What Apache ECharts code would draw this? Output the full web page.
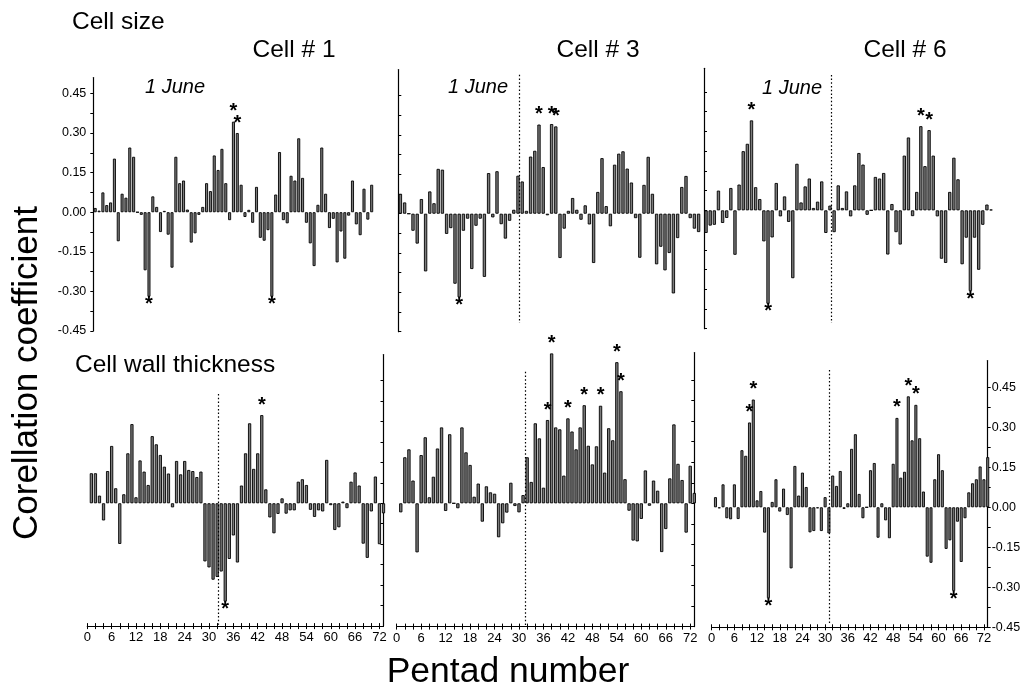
<!DOCTYPE html>
<html>
<head>
<meta charset="utf-8">
<script src="https://cdn.jsdelivr.net/npm/echarts@6/dist/echarts.min.js"></script>
<style>
  html, body { margin: 0; padding: 0; background: #fff; }
  #chart { width: 1026px; height: 690px; }
</style>
</head>
<body>
<div id="chart"></div>
<script>
// Pentad-wise correlation coefficients (pentad 1, 2, 3, ...)
// Cell size
const sizeCell1 = [0.016, 0.006, 0.075, 0.027, 0.037, 0.203, -0.11, 0.07, 0.055, 0.245,
  0.21, 0, -0.01, -0.22, -0.32, 0.06, 0.02, -0.075, 0.005, -0.085,
  -0.21, 0.21, 0.11, 0.12, 0.01, -0.115, -0.08, -0.01, 0.02, 0.11,
  0.08, 0.215, 0.16, 0.24, 0.11, -0.03, 0.343, 0.30, 0.104, -0.018,
  0.009, -0.04, 0.096, -0.097, -0.108, -0.068, -0.32, 0.067, 0.228, -0.03,
  -0.042, 0.138, 0.12, 0.28, 0.13, -0.04, -0.118, -0.204, 0.028, 0.245,
  0.07, -0.06, -0.025, -0.19, -0.073, -0.176, -0.013, 0.12, -0.046, -0.087,
  0.089, -0.028, 0.104];
const sizeCell3 = [0.076, 0.043, 0, -0.065, -0.114, 0.056, -0.22, 0.085, 0.04, 0.171,
  0.168, -0.077, -0.055, -0.267, -0.319, -0.065, -0.019, -0.211, -0.046, -0.019,
  -0.241, 0.155, -0.014, 0.162, -0.04, -0.095, -0.027, 0.015, 0.145, 0.123,
  0.011, 0.218, 0.24, 0.34, 0.178, -0.006, 0.342, 0.333, -0.169, -0.057,
  0.011, 0.06, 0.015, -0.023, 0.032, -0.041, -0.188, 0.083, 0.212, 0.029,
  -0.048, 0.187, 0.229, 0.238, 0.172, 0.119, -0.017, -0.168, 0.11, 0.217,
  0.076, -0.193, -0.126, -0.216, -0.15, -0.304, -0.093, 0.102, 0.144, -0.017,
  -0.057, -0.07];
const sizeCell6 = [-0.086, -0.058, -0.055, 0.075, -0.048, -0.029, 0.085, -0.169, 0.098, 0.225,
  0.253, 0.342, 0.088, 0.043, -0.118, -0.355, -0.103, 0.104, -0.023, 0.053,
  -0.044, -0.258, 0.177, 0.03, 0.091, 0.121, 0.009, 0.033, 0.11, -0.086,
  0.018, -0.083, 0.095, 0.009, 0.072, -0.023, 0.095, 0.218, 0.174, -0.017,
  0, 0.127, 0.121, 0.142, -0.168, 0.024, -0.083, -0.13, 0.208, 0.277,
  -0.022, 0.07, 0.32, 0.168, 0.305, 0.208, -0.023, -0.184, -0.2, 0.07,
  0.2, 0.118, -0.205, -0.104, -0.307, -0.104, -0.226, -0.055, 0.022, 0.003];

// Cell wall thickness
const wallCell1 = [0.11, 0.11, 0.028, -0.063, 0.118, 0.21, 0.055, -0.149, 0.033, 0.183,
  0.29, 0.022, 0.157, 0.116, 0.067, 0.246, 0.216, 0.177, 0.134, 0.109,
  -0.015, 0.155, 0.106, 0.155, 0.122, 0.118, 0.096, 0.116, -0.213, -0.235,
  -0.28, -0.27, -0.25, -0.36, -0.204, -0.118, -0.217, 0.065, 0.183, 0.293,
  0.126, 0.183, 0.323, 0.051, -0.052, -0.11, -0.039, 0.018, -0.038, -0.026,
  -0.026, 0.079, 0.088, 0.067, -0.024, -0.05, -0.026, -0.03, 0.159, -0.007,
  -0.098, -0.088, 0.006, -0.018, 0.079, 0.113, 0.065, -0.148, -0.2, -0.03,
  0.098, -0.15, -0.037];
const wallCell3 = [-0.033, 0.168, 0.197, 0.083, -0.179, 0.176, 0.241, 0.022, 0.097, 0.2,
  0.277, -0.028, 0.252, 0, -0.018, 0.277, 0.186, 0.14, 0.024, 0.072,
  -0.067, 0.062, 0.04, 0.035, -0.124, -0.073, -0.034, 0.075, -0.01, -0.033,
  0.03, 0.168, 0.078, 0.292, 0.237, 0.057, 0.304, 0.547, 0.277, 0.27,
  0.101, 0.31, 0.262, 0.197, 0.277, 0.358, 0.21, 0.142, 0.208, 0.356,
  0.112, 0.274, 0.23, 0.515, 0.409, 0.088, -0.027, -0.136, -0.139, -0.057,
  0.12, -0.009, 0.083, 0.046, -0.178, -0.094, 0.091, 0.288, 0.144, 0.085,
  -0.107, 0.137, 0.038];
const wallCell6 = [0.038, -0.004, 0.086, -0.041, -0.045, 0.086, -0.044, 0.214, 0.193, 0.318,
  0.404, 0.026, 0.061, -0.095, -0.341, 0.02, 0.105, -0.016, 0.07, -0.029,
  -0.229, 0.155, 0.044, 0.13, 0.076, -0.094, -0.089, -0.004, -0.089, 0.038,
  -0.098, 0.119, 0.08, 0.136, -0.006, 0.015, 0.219, 0.274, 0.05, -0.041,
  0, 0.139, 0.166, -0.114, 0.015, -0.049, -0.116, 0.163, 0.335, 0.111,
  0.133, 0.416, 0.251, 0.384, 0.259, 0.059, -0.185, -0.208, 0.105, 0.199,
  0.139, -0.156, -0.124, -0.314, -0.054, -0.205, -0.041, 0.056, 0.09, 0.105,
  0.153, 0.105, 0.188];

// Pentads whose coefficient is significant (marked with *)
const sizeStars1 = [15, 37, 38, 47];
const sizeStars3 = [15, 34, 37, 38];
const sizeStars6 = [12, 16, 53, 55, 65];
const wallStars1 = [34, 43];
const wallStars3 = [37, 38, 42, 46, 50, 54, 55];
const wallStars6 = [10, 11, 15, 49, 52, 54, 64];

// Pentad where 1 June falls in each panel
const juneMark = [31.7, 29.2, 31.25, 32.3, 31.5, 31.1];

// Axis ticks
const pentadLabels = [0, 6, 12, 18, 24, 30, 36, 42, 48, 54, 60, 66, 72];
const pentadMinor = Array.from({ length: 37 }, (_, i) => i * 2);
const coefLabels = [-0.45, -0.30, -0.15, 0.00, 0.15, 0.30, 0.45];
const coefMinor = Array.from({ length: 13 }, (_, i) => Math.round((-0.45 + i * 0.075) * 1000) / 1000);

const columnTitles = ['Cell # 1', 'Cell # 3', 'Cell # 6'];
const rowTitles = ['Cell size', 'Cell wall thickness'];

const FONT = "'Liberation Sans', Arial, Helvetica, sans-serif";
const BAR_FILL = '#7b7b7b';

const panels = [
  { values: sizeCell1, stars: sizeStars1, grid: { left: 93.3, top: 77.6, width: 280.3, height: 253.4 }, yMax: 0.51, x: [0.5, 73.5], bw: 3.0, line: [0.52, -0.435], row: 0 },
  { values: sizeCell3, stars: sizeStars3, grid: { left: 398.3, top: 69.5, width: 306.6, height: 262.2 }, yMax: 0.55, x: [0.5, 73.5], bw: 3.3, line: [0.53, -0.417], row: 0 },
  { values: sizeCell6, stars: sizeStars6, grid: { left: 704, top: 68.3, width: 301.5, height: 260.4 }, yMax: 0.54, x: [0.5, 73.5], bw: 3.3, line: [0.515, -0.428], row: 0 },
  { values: wallCell1, stars: wallStars1, grid: { left: 87.3, top: 354.5, width: 296.2, height: 271.6 }, yMax: 0.545, x: [0, 73], bw: 3.2, line: [0.40, -0.445], row: 1 },
  { values: wallCell3, stars: wallStars3, grid: { left: 396.7, top: 352.6, width: 297.6, height: 274 }, yMax: 0.55, x: [0, 73], bw: 3.3, line: [0.48, -0.445], row: 1 },
  { values: wallCell6, stars: wallStars6, grid: { left: 711.7, top: 360.6, width: 276, height: 266.7 }, yMax: 0.55, x: [0, 73], bw: 3.0, line: [0.515, -0.44], row: 1 }
];

const grids = [], xAxes = [], yAxes = [], series = [];

panels.forEach((p, i) => {
  grids.push(Object.assign({ containLabel: false }, p.grid));

  // x axis used by the bars (and the labelled pentad axis on the lower row)
  const bottomRow = p.row === 1;
  xAxes.push({
    type: 'value', gridIndex: i, min: p.x[0], max: p.x[1], show: bottomRow,
    position: 'bottom',
    axisLine: { show: true, onZero: false, lineStyle: { color: '#000', width: 1.2 } },
    axisTick: { show: true, inside: false, length: 3, customValues: pentadMinor, lineStyle: { color: '#000', width: 1 } },
    axisLabel: { show: true, customValues: pentadLabels, color: '#000', fontSize: 13, fontFamily: FONT, margin: 5 },
    splitLine: { show: false }
  });
  // second pentad axis for the upward half of the ticks
  xAxes.push({
    type: 'value', gridIndex: i, min: p.x[0], max: p.x[1], show: bottomRow,
    position: 'bottom',
    axisLine: { show: false, onZero: false },
    axisTick: { show: true, inside: true, length: 3, customValues: pentadMinor, lineStyle: { color: '#000', width: 1 } },
    axisLabel: { show: false },
    splitLine: { show: false }
  });

  const labelled = (i === 0 || i === 5);
  yAxes.push({
    type: 'value', gridIndex: i, min: -0.45, max: p.yMax,
    position: p.row === 0 ? 'left' : 'right',
    axisLine: { show: true, onZero: false, lineStyle: { color: '#000', width: 1.2 } },
    axisTick: { show: true, inside: !labelled, length: 3, customValues: coefMinor, lineStyle: { color: '#000', width: 1 } },
    axisLabel: {
      show: labelled, customValues: coefLabels, color: '#000', fontSize: 12.5, fontFamily: FONT,
      margin: p.row === 0 ? 7 : 4,
      formatter: v => v.toFixed(2)
    },
    splitLine: { show: false }
  });

  const data = p.values.map((v, k) => {
    const pentad = k + 1;
    const item = { value: [pentad, v] };
    if (p.stars.includes(pentad)) {
      item.label = {
        show: true, formatter: '*', position: v >= 0 ? 'top' : 'bottom',
        distance: v >= 0 ? 0 : -2,
        color: '#000', fontSize: 20, fontWeight: 'bold', fontFamily: FONT
      };
    }
    return item;
  });

  series.push({
    type: 'bar', xAxisIndex: i * 2, yAxisIndex: i, data,
    barWidth: p.bw, silent: true, animation: false,
    itemStyle: { color: BAR_FILL, borderColor: '#000', borderWidth: 0.9 },
    label: { show: false },
    markLine: {
      silent: true, symbol: 'none', animation: false,
      label: { show: false },
      lineStyle: { color: '#000', type: [1.5, 2.2], width: 1.2 },
      data: [[{ coord: [juneMark[i], p.line[0]] }, { coord: [juneMark[i], p.line[1]] }]]
    }
  });
});

const centred = { align: 'center', verticalAlign: 'middle', textAlign: 'center', textVerticalAlign: 'middle' };
const rightMid = { align: 'right', verticalAlign: 'middle', textAlign: 'right', textVerticalAlign: 'middle' };
const leftMid = { align: 'left', verticalAlign: 'middle', textAlign: 'left', textVerticalAlign: 'middle' };
const textStyle = (extra) => Object.assign({ fontFamily: FONT, fill: '#000' }, extra);

const graphic = [
  { type: 'text', x: 72, y: 22, style: textStyle(Object.assign({ text: rowTitles[0], fontSize: 24.5 }, leftMid)) },
  { type: 'text', x: 75, y: 365, style: textStyle(Object.assign({ text: rowTitles[1], fontSize: 24.5 }, leftMid)) },
  { type: 'text', x: 294, y: 50, style: textStyle(Object.assign({ text: columnTitles[0], fontSize: 24.5 }, centred)) },
  { type: 'text', x: 598, y: 50, style: textStyle(Object.assign({ text: columnTitles[1], fontSize: 24.5 }, centred)) },
  { type: 'text', x: 905, y: 50, style: textStyle(Object.assign({ text: columnTitles[2], fontSize: 24.5 }, centred)) },
  { type: 'text', x: 205, y: 87, style: textStyle(Object.assign({ text: '1 June', fontSize: 20, fontStyle: 'italic' }, rightMid)) },
  { type: 'text', x: 508, y: 87, style: textStyle(Object.assign({ text: '1 June', fontSize: 20, fontStyle: 'italic' }, rightMid)) },
  { type: 'text', x: 822, y: 88, style: textStyle(Object.assign({ text: '1 June', fontSize: 20, fontStyle: 'italic' }, rightMid)) },
  { type: 'text', x: 27, y: 373, rotation: Math.PI / 2, style: textStyle(Object.assign({ text: 'Corellation coefficient', fontSize: 35 }, centred)) },
  { type: 'text', x: 508, y: 672, style: textStyle(Object.assign({ text: 'Pentad number', fontSize: 35.5 }, centred)) }
];

const chart = echarts.init(document.getElementById('chart'), null, { renderer: 'canvas' });
chart.setOption({
  backgroundColor: '#fff',
  animation: false,
  grid: grids,
  xAxis: xAxes,
  yAxis: yAxes,
  series,
  graphic
});
</script>
</body>
</html>
